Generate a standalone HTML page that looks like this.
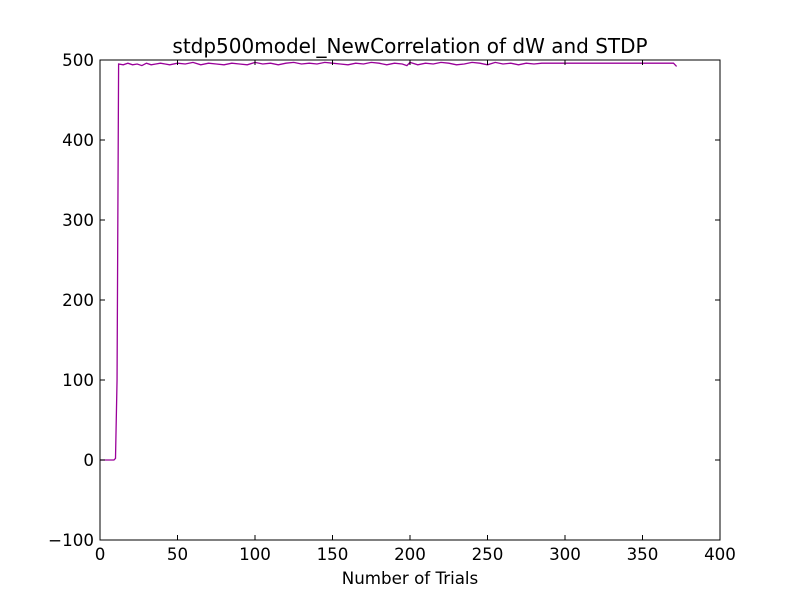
<!DOCTYPE html>
<html><head><meta charset="utf-8"><style>
body{margin:0;background:#fff;}
svg{display:block;font-family:"DejaVu Sans","Liberation Sans",sans-serif;}
</style></head><body>
<svg id="chart" width="800" height="600">
<rect width="800" height="600" fill="#fff"/>
<text x="410" y="53" font-size="20" text-anchor="middle">stdp500model_NewCorrelation of dW and STDP</text>
<g id="plot"></g>
<text x="410" y="584" font-size="16.7" text-anchor="middle">Number of Trials</text>
</svg>
<script>
const trials = [0,5,9,10,11,12,15,18,21,24,27,30,33,36,39,42,45,50,55,60,65,70,75,80,85,90,95,100,105,110,115,120,125,130,135,140,145,150,155,160,165,170,175,180,185,190,195,198,200,205,210,215,220,225,230,235,240,245,250,255,260,265,270,275,280,285,300,330,360,370,371,372];
const values = [0,0,0,2,100,495,494,496,494,495,493,496,494,495,496,495,494,496,495,497,494,496,495,494,496,495,494,497,495,496,494,496,497,495,496,495,497,496,495,494,496,495,497,496,494,496,495,493,497,494,496,495,497,496,494,495,497,496,494,497,495,496,494,496,495,496,496,496,496,496,494,492];
const xTicks = [0,50,100,150,200,250,300,350,400];
const yTicks = [-100,0,100,200,300,400,500];
const X0=100,X1=720,Y0=540,Y1=60;
const sx = v => X0 + (v-0)/(400-0)*(X1-X0);
const sy = v => Y0 - (v+100)/(600)*(Y0-Y1);
const NS="http://www.w3.org/2000/svg";
const g=document.getElementById('plot');
function mk(t,a){const e=document.createElementNS(NS,t);for(const k in a)e.setAttribute(k,a[k]);g.appendChild(e);return e;}
const line=mk('polyline',{points:trials.map((t,i)=>sx(t)+','+sy(values[i])).join(' '),fill:'none',stroke:'#990099','stroke-width':1.3});


const frame=mk('rect',{x:X0,y:Y1,width:X1-X0,height:Y0-Y1,fill:'none',stroke:'#000','stroke-width':1});


xTicks.forEach(v=>{
  const x=sx(v);
  mk('line',{x1:x,x2:x,y1:Y0,y2:Y0-5,stroke:'#000'});
  mk('line',{x1:x,x2:x,y1:Y1,y2:Y1+5,stroke:'#000'});
  const t=mk('text',{x:x,y:Y0+20,'font-size':16.7,'text-anchor':'middle'});
  t.textContent=v;
  
  
});
yTicks.forEach(v=>{
  const y=sy(v);
  mk('line',{x1:X0,x2:X0+5,y1:y,y2:y,stroke:'#000'});
  mk('line',{x1:X1,x2:X1-5,y1:y,y2:y,stroke:'#000'});
  const t=mk('text',{x:X0-6,y:y+6,'font-size':16.7,'text-anchor':'end'});
  t.textContent=v<0?'\u2212'+(-v):v;
  
  
});
</script>
</body></html>
